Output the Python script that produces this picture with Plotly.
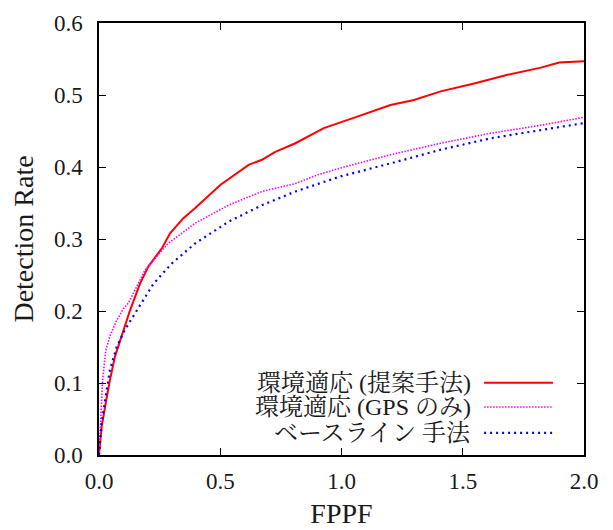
import plotly.graph_objects as go

# Data
prop_x = [0.0, 0.011, 0.025, 0.045, 0.066, 0.100, 0.128, 0.169, 0.204, 0.259, 0.293, 0.348, 0.397, 0.5, 0.617, 0.672, 0.727, 0.81,
          0.927, 1.065, 1.202, 1.299, 1.409, 1.547, 1.685, 1.822, 1.898, 2.0]
prop_y = [0.0, 0.039, 0.067, 0.104, 0.137, 0.172, 0.201, 0.238, 0.262, 0.287, 0.308, 0.329, 0.343, 0.375, 0.403, 0.410, 0.421, 0.433,
          0.454, 0.470, 0.486, 0.493, 0.505, 0.516, 0.528, 0.538, 0.545, 0.547]

gps_x = [0.0, 0.004, 0.008, 0.015, 0.028, 0.045, 0.07, 0.10, 0.121, 0.19, 0.286, 0.397, 0.534, 0.672, 0.81,
         0.9, 1.01, 1.202, 1.409, 1.616, 1.822, 2.0]
gps_y = [0.0, 0.03, 0.07, 0.105, 0.145, 0.165, 0.185, 0.203, 0.211, 0.257, 0.294, 0.322, 0.347, 0.366, 0.377,
         0.389, 0.400, 0.417, 0.433, 0.447, 0.458, 0.469]

base_x = [0.0, 0.004, 0.011, 0.025, 0.045, 0.073, 0.107, 0.149, 0.225, 0.30, 0.397, 0.534, 0.672, 0.81,
          0.996, 1.202, 1.409, 1.616, 1.822, 2.0]
base_y = [0.0, 0.016, 0.044, 0.076, 0.118, 0.150, 0.174, 0.197, 0.238, 0.266, 0.294, 0.324, 0.347, 0.366,
          0.387, 0.405, 0.424, 0.440, 0.451, 0.461]

names = ["環境適応 (提案手法)", "環境適応 (GPS のみ)", "ベースライン 手法"]
colors = ["#ff0000", "#ff00ff", "#0000ff"]
dashes = ["solid", "1.5px,1.5px", "2px,4px"]
widths = [2, 1.6, 2.2]

xticks = [0.0, 0.5, 1.0, 1.5, 2.0]
yticks = [0.0, 0.1, 0.2, 0.3, 0.4, 0.5, 0.6]

FONT = "Liberation Serif, Noto Serif CJK JP, Noto Sans CJK JP, serif"
TXT = "#1a1a1a"

fig = go.Figure()
for xs, ys, n, c, d, w in zip([prop_x, gps_x, base_x], [prop_y, gps_y, base_y], names, colors, dashes, widths):
    fig.add_trace(go.Scatter(x=xs, y=ys, mode="lines", name=n,
                             line=dict(color=c, dash=d, width=w), showlegend=False))

# Manual legend: text right-aligned, sample line to the right
leg_y = [0.167, 0.111, 0.051]
for n, c, d, w, yy in zip(names, colors, dashes, widths, leg_y):
    fig.add_annotation(xref="paper", yref="paper", x=0.772, y=yy, text=n, showarrow=False,
                       xanchor="right", yanchor="middle", font=dict(family=FONT, size=24, color=TXT))
    fig.add_shape(type="line", xref="paper", yref="paper", x0=0.794, x1=0.936, y0=yy, y1=yy,
                  line=dict(color=c, dash=d, width=w))

axis_common = dict(showline=True, linecolor="black", linewidth=1.5, mirror="ticks",
                   ticks="inside", ticklen=7, tickcolor="black", tickwidth=1,
                   showgrid=False, zeroline=False, automargin=False,
                   tickfont=dict(family=FONT, size=23, color=TXT))

fig.update_xaxes(range=[0, 2.0], tickvals=xticks, ticktext=[f"{v:.1f}" for v in xticks],
                 ticklabelstandoff=5,
                 title=dict(text="FPPF", font=dict(family=FONT, size=28, color=TXT), standoff=10),
                 **axis_common)
fig.update_yaxes(range=[0, 0.6], tickvals=yticks, ticktext=[f"{v:.1f}" for v in yticks],
                 ticklabelstandoff=10,
                 title=dict(text="Detection Rate", font=dict(family=FONT, size=28, color=TXT), standoff=12),
                 **axis_common)

fig.update_layout(width=613, height=530, margin=dict(l=99, r=29, t=23, b=75),
                  plot_bgcolor="white", paper_bgcolor="white",
                  font=dict(family=FONT))

fig.write_html("out.html", config={"displayModeBar": False},
               post_script="document.body.style.margin='0';document.body.style.overflow='hidden';")
